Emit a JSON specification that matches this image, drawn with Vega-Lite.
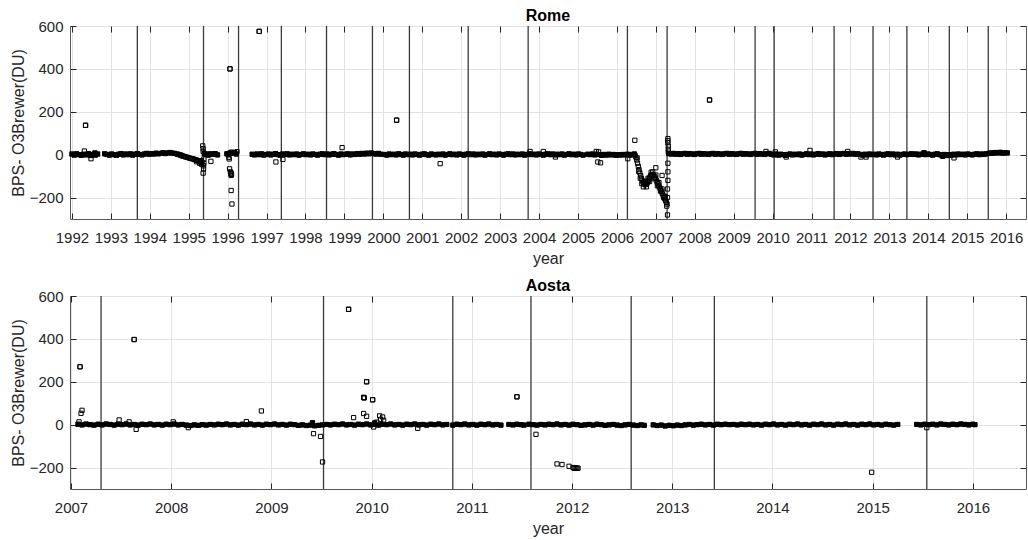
{
"$schema":"https://vega.github.io/schema/vega-lite/v6.json",
"padding":{"left":9,"top":7,"right":0,"bottom":0},
"spacing":10,
"config":{
"font":"Liberation Sans",
"view":{"stroke":"#5a5a5a","strokeWidth":1},
"axis":{"labelFont":"Liberation Sans","labelFontSize":15,"labelColor":"#262626","titleFont":"Liberation Sans","titleFontSize":16,"titleFontWeight":"normal","titleColor":"#262626","tickColor":"#262626","tickSize":-6,"labelPadding":13,"domain":false,"gridColor":"#e3e3e3","gridWidth":1,"labelOverlap":false,"labelFlush":false,"titlePadding":5},
"axisX":{"labelPadding":17},
"axisY":{"titlePadding":3},
"title":{"font":"Liberation Sans","fontSize":16,"fontWeight":"bold","color":"black","offset":-5}
},
"datasets":{
"romeEv":[{"t":1993.68},{"t":1995.38},{"t":1996.28},{"t":1997.38},{"t":1998.54},{"t":1999.72},{"t":2000.67},{"t":2002.18},{"t":2003.72},{"t":2006.27},{"t":2007.29},{"t":2009.55},{"t":2010.04},{"t":2011.58},{"t":2012.58},{"t":2013.45},{"t":2014.54},{"t":2015.54}],
"aostaEv":[{"t":2007.30},{"t":2009.52},{"t":2010.81},{"t":2011.59},{"t":2012.59},{"t":2013.42},{"t":2015.54}],
"rome":[
{"t":1992.00,"v":3},{"t":1992.06,"v":-2},{"t":1992.12,"v":4},{"t":1992.18,"v":0},{"t":1992.24,"v":-3},{"t":1992.30,"v":2},{"t":1992.36,"v":-1},{"t":1992.42,"v":5},{"t":1992.48,"v":-4},{"t":1992.54,"v":1},{"t":1992.60,"v":-2},{"t":1992.66,"v":3},
{"t":1992.35,"v":137},{"t":1992.32,"v":17},{"t":1992.49,"v":-19},{"t":1992.59,"v":8},
{"t":1992.84,"v":4},{"t":1992.90,"v":1},{"t":1992.96,"v":-2},{"t":1993.02,"v":3},{"t":1993.08,"v":0},{"t":1993.14,"v":-3},{"t":1993.20,"v":2},{"t":1993.26,"v":5},{"t":1993.32,"v":-1},{"t":1993.38,"v":3},{"t":1993.44,"v":0},{"t":1993.50,"v":4},{"t":1993.56,"v":-2},{"t":1993.62,"v":2},{"t":1993.68,"v":5},{"t":1993.74,"v":1},{"t":1993.80,"v":-1},{"t":1993.86,"v":3},{"t":1993.92,"v":6},{"t":1993.98,"v":2},
{"t":1994.04,"v":5},{"t":1994.10,"v":3},{"t":1994.16,"v":7},{"t":1994.22,"v":4},{"t":1994.28,"v":6},{"t":1994.34,"v":9},{"t":1994.40,"v":5},{"t":1994.46,"v":8},{"t":1994.52,"v":10},{"t":1994.58,"v":7},{"t":1994.64,"v":6},
{"t":1994.70,"v":3},{"t":1994.76,"v":0},{"t":1994.82,"v":-4},{"t":1994.88,"v":-8},{"t":1994.94,"v":-11},{"t":1995.00,"v":-14},{"t":1995.06,"v":-18},{"t":1995.12,"v":-20},{"t":1995.18,"v":-24},{"t":1995.24,"v":-28},{"t":1995.30,"v":-32},{"t":1995.34,"v":-35},{"t":1995.20,"v":-33},{"t":1995.28,"v":-40},{"t":1995.33,"v":-45},
{"t":1994.73,"v":1},{"t":1994.79,"v":-2},{"t":1994.85,"v":-7},{"t":1994.91,"v":-10},{"t":1994.97,"v":-13},{"t":1995.03,"v":-17},{"t":1995.09,"v":-19},{"t":1995.15,"v":-23},{"t":1995.21,"v":-26},{"t":1995.27,"v":-30},{"t":1995.31,"v":-37},{"t":1995.32,"v":-28},
{"t":1995.36,"v":41},{"t":1995.37,"v":28},{"t":1995.37,"v":15},{"t":1995.38,"v":-52},{"t":1995.38,"v":-66},{"t":1995.37,"v":-86},{"t":1995.39,"v":-40},{"t":1995.39,"v":-20},{"t":1995.40,"v":5},
{"t":1995.44,"v":3},{"t":1995.50,"v":-2},{"t":1995.56,"v":4},{"t":1995.57,"v":-31},{"t":1995.62,"v":1},{"t":1995.68,"v":5},{"t":1995.74,"v":-1},
{"t":1995.98,"v":4},{"t":1996.02,"v":0},{"t":1996.06,"v":8},{"t":1996.10,"v":12},{"t":1996.14,"v":6},{"t":1996.18,"v":10},{"t":1996.22,"v":3},{"t":1996.24,"v":14},
{"t":1996.06,"v":400},{"t":1996.04,"v":-20},{"t":1996.05,"v":-66},{"t":1996.07,"v":-80},{"t":1996.08,"v":-89},{"t":1996.09,"v":-97},{"t":1996.10,"v":-92},{"t":1996.09,"v":-85},{"t":1996.09,"v":-167},{"t":1996.11,"v":-230},{"t":1996.03,"v":-12},
{"t":1996.81,"v":575},
{"t":1996.63,"v":2},{"t":1996.69,"v":-1},{"t":1996.75,"v":3},{"t":1996.81,"v":0},{"t":1996.87,"v":4},{"t":1996.93,"v":-2},{"t":1996.99,"v":1},{"t":1997.05,"v":3},{"t":1997.11,"v":-1},{"t":1997.17,"v":2},{"t":1997.23,"v":5},{"t":1997.29,"v":0},{"t":1997.35,"v":-2},{"t":1997.41,"v":3},{"t":1997.47,"v":1},{"t":1997.53,"v":4},{"t":1997.59,"v":-1},{"t":1997.65,"v":2},{"t":1997.71,"v":0},{"t":1997.77,"v":3},{"t":1997.83,"v":-2},{"t":1997.89,"v":1},{"t":1997.95,"v":4},{"t":1998.01,"v":0},{"t":1998.07,"v":2},{"t":1998.13,"v":-1},{"t":1998.19,"v":3},{"t":1998.25,"v":1},{"t":1998.31,"v":-2},{"t":1998.37,"v":2},{"t":1998.43,"v":4},{"t":1998.49,"v":0},{"t":1998.55,"v":3},{"t":1998.61,"v":-1},{"t":1998.67,"v":2},{"t":1998.73,"v":5},{"t":1998.79,"v":1},{"t":1998.85,"v":-2},{"t":1998.91,"v":3},{"t":1998.97,"v":0},{"t":1999.03,"v":2},{"t":1999.09,"v":4},{"t":1999.15,"v":-1},{"t":1999.21,"v":3},{"t":1999.27,"v":1},{"t":1999.33,"v":5},{"t":1999.39,"v":2},{"t":1999.45,"v":6},{"t":1999.51,"v":3},{"t":1999.57,"v":7},{"t":1999.63,"v":4},{"t":1999.69,"v":8},{"t":1999.75,"v":5},{"t":1999.81,"v":3},{"t":1999.87,"v":6},{"t":1999.93,"v":2},
{"t":1997.24,"v":-34},{"t":1997.42,"v":-22},{"t":1998.94,"v":33},
{"t":2000.03,"v":1},{"t":2000.09,"v":-2},{"t":2000.15,"v":3},{"t":2000.21,"v":0},{"t":2000.27,"v":2},{"t":2000.33,"v":-1},{"t":2000.39,"v":4},{"t":2000.45,"v":1},{"t":2000.51,"v":-2},{"t":2000.57,"v":3},{"t":2000.63,"v":0},{"t":2000.69,"v":2},{"t":2000.75,"v":-1},{"t":2000.81,"v":3},{"t":2000.87,"v":1},{"t":2000.93,"v":-2},{"t":2000.99,"v":2},{"t":2001.05,"v":4},{"t":2001.11,"v":0},{"t":2001.17,"v":-2},{"t":2001.23,"v":3},{"t":2001.29,"v":1},{"t":2001.35,"v":-1},{"t":2001.41,"v":2},{"t":2001.47,"v":0},{"t":2001.53,"v":3},{"t":2001.59,"v":-2},{"t":2001.65,"v":1},{"t":2001.71,"v":4},{"t":2001.77,"v":0},{"t":2001.83,"v":2},{"t":2001.89,"v":-1},{"t":2001.95,"v":3},{"t":2002.01,"v":1},{"t":2002.07,"v":-2},{"t":2002.13,"v":2},{"t":2002.19,"v":4},{"t":2002.25,"v":0},{"t":2002.31,"v":3},{"t":2002.37,"v":-1},{"t":2002.43,"v":2},{"t":2002.49,"v":0},{"t":2002.55,"v":3},{"t":2002.61,"v":-2},{"t":2002.67,"v":1},{"t":2002.73,"v":4},{"t":2002.79,"v":0},{"t":2002.85,"v":2},{"t":2002.91,"v":-1},{"t":2002.97,"v":3},{"t":2003.03,"v":1},{"t":2003.09,"v":-2},{"t":2003.15,"v":2},{"t":2003.21,"v":4},{"t":2003.27,"v":0},{"t":2003.33,"v":3},{"t":2003.39,"v":-1},{"t":2003.45,"v":2},{"t":2003.51,"v":0},{"t":2003.57,"v":3},{"t":2003.63,"v":-2},{"t":2003.69,"v":1},{"t":2003.75,"v":4},{"t":2003.81,"v":0},{"t":2003.87,"v":2},{"t":2003.93,"v":-1},{"t":2003.99,"v":3},{"t":2004.05,"v":1},{"t":2004.11,"v":-2},{"t":2004.17,"v":2},{"t":2004.23,"v":4},{"t":2004.29,"v":0},{"t":2004.35,"v":3},{"t":2004.41,"v":-1},{"t":2004.47,"v":2},{"t":2004.53,"v":0},{"t":2004.59,"v":3},{"t":2004.65,"v":-2},{"t":2004.71,"v":1},{"t":2004.77,"v":4},{"t":2004.83,"v":0},{"t":2004.89,"v":2},{"t":2004.95,"v":-1},{"t":2005.01,"v":3},{"t":2005.07,"v":1},{"t":2005.13,"v":-2},{"t":2005.25,"v":2},{"t":2005.31,"v":0},{"t":2005.37,"v":3},{"t":2005.43,"v":-1},{"t":2005.49,"v":2},{"t":2005.55,"v":0},{"t":2005.61,"v":-3},{"t":2005.67,"v":1},{"t":2005.73,"v":-2},{"t":2005.79,"v":2},{"t":2005.85,"v":-1},{"t":2005.91,"v":1},{"t":2005.97,"v":-3},{"t":2006.03,"v":0},{"t":2006.09,"v":-2},{"t":2006.15,"v":1},{"t":2006.21,"v":-1},{"t":2006.27,"v":2},{"t":2006.33,"v":-2},{"t":2006.39,"v":1},{"t":2006.45,"v":3},
{"t":2000.34,"v":161},{"t":2001.46,"v":-42},{"t":2003.77,"v":15},{"t":2004.11,"v":15},{"t":2004.42,"v":-11},{"t":2005.47,"v":15},{"t":2005.51,"v":-34},{"t":2005.53,"v":13},{"t":2005.58,"v":-38},{"t":2006.28,"v":-19},{"t":2006.46,"v":67},
{"t":2006.47,"v":-5},{"t":2006.49,"v":-12},{"t":2006.51,"v":-25},{"t":2006.53,"v":-40},{"t":2006.55,"v":-55},{"t":2006.57,"v":-70},{"t":2006.59,"v":-85},{"t":2006.61,"v":-98},{"t":2006.63,"v":-110},{"t":2006.65,"v":-120},{"t":2006.67,"v":-128},{"t":2006.69,"v":-134},{"t":2006.71,"v":-138},{"t":2006.73,"v":-140},{"t":2006.75,"v":-138},{"t":2006.77,"v":-134},{"t":2006.79,"v":-128},{"t":2006.81,"v":-120},{"t":2006.83,"v":-112},{"t":2006.85,"v":-104},{"t":2006.87,"v":-98},{"t":2006.89,"v":-94},{"t":2006.91,"v":-92},{"t":2006.93,"v":-94},{"t":2006.95,"v":-98},{"t":2006.97,"v":-104},{"t":2006.99,"v":-110},{"t":2007.01,"v":-118},{"t":2007.03,"v":-126},{"t":2007.05,"v":-134},{"t":2007.07,"v":-142},{"t":2007.09,"v":-150},{"t":2007.11,"v":-158},{"t":2007.13,"v":-166},{"t":2007.15,"v":-174},{"t":2007.17,"v":-182},{"t":2007.19,"v":-190},{"t":2007.21,"v":-198},{"t":2007.23,"v":-206},{"t":2007.25,"v":-214},{"t":2007.27,"v":-222},{"t":2007.29,"v":-230},
{"t":2006.52,"v":-15},{"t":2006.56,"v":-78},{"t":2006.60,"v":-110},{"t":2006.64,"v":-135},{"t":2006.68,"v":-150},{"t":2006.72,"v":-125},{"t":2006.76,"v":-150},{"t":2006.80,"v":-110},{"t":2006.84,"v":-125},{"t":2006.88,"v":-82},{"t":2006.92,"v":-80},{"t":2006.96,"v":-112},{"t":2007.00,"v":-95},{"t":2007.04,"v":-145},{"t":2007.08,"v":-130},{"t":2007.12,"v":-170},{"t":2007.16,"v":-160},{"t":2007.20,"v":-200},{"t":2007.24,"v":-195},{"t":2007.28,"v":-240},
{"t":2007.00,"v":-61},{"t":2007.16,"v":-97},{"t":2007.30,"v":-281},{"t":2007.30,"v":-200},{"t":2007.30,"v":-160},{"t":2007.31,"v":-120},{"t":2007.31,"v":-80},{"t":2007.31,"v":-40},{"t":2007.31,"v":75},{"t":2007.31,"v":65},{"t":2007.31,"v":56},{"t":2007.32,"v":40},{"t":2007.32,"v":25},{"t":2007.32,"v":12},
{"t":2007.33,"v":5},{"t":2007.39,"v":3},{"t":2007.45,"v":6},{"t":2007.51,"v":2},{"t":2007.57,"v":5},{"t":2007.63,"v":1},{"t":2007.69,"v":4},{"t":2007.75,"v":6},{"t":2007.81,"v":2},{"t":2007.87,"v":5},{"t":2007.93,"v":3},{"t":2007.99,"v":1},{"t":2008.05,"v":4},{"t":2008.11,"v":6},{"t":2008.17,"v":2},{"t":2008.23,"v":5},{"t":2008.29,"v":3},{"t":2008.35,"v":1},{"t":2008.41,"v":4},{"t":2008.47,"v":6},{"t":2008.53,"v":2},{"t":2008.59,"v":5},{"t":2008.65,"v":3},{"t":2008.71,"v":1},{"t":2008.77,"v":4},{"t":2008.83,"v":6},{"t":2008.89,"v":2},{"t":2008.95,"v":5},{"t":2009.01,"v":3},{"t":2009.07,"v":1},{"t":2009.13,"v":4},{"t":2009.19,"v":6},{"t":2009.25,"v":2},{"t":2009.31,"v":5},{"t":2009.37,"v":3},{"t":2009.43,"v":1},{"t":2009.49,"v":4},{"t":2009.55,"v":6},{"t":2009.61,"v":2},{"t":2009.67,"v":5},{"t":2009.73,"v":3},{"t":2009.79,"v":1},{"t":2009.85,"v":4},{"t":2009.91,"v":6},{"t":2009.97,"v":2},{"t":2010.03,"v":-1},{"t":2010.09,"v":3},{"t":2010.15,"v":-2},{"t":2010.21,"v":2},{"t":2010.27,"v":0},{"t":2010.33,"v":-3},{"t":2010.39,"v":1},{"t":2010.45,"v":3},{"t":2010.51,"v":-1},{"t":2010.57,"v":2},{"t":2010.63,"v":0},{"t":2010.69,"v":3},{"t":2010.75,"v":-2},{"t":2010.81,"v":1},{"t":2010.87,"v":4},{"t":2010.93,"v":0},{"t":2010.99,"v":3},{"t":2011.05,"v":-1},{"t":2011.11,"v":2},{"t":2011.17,"v":5},{"t":2011.23,"v":1},{"t":2011.29,"v":3},{"t":2011.35,"v":-1},{"t":2011.41,"v":2},{"t":2011.47,"v":4},{"t":2011.53,"v":0},{"t":2011.59,"v":3},{"t":2011.65,"v":5},{"t":2011.71,"v":1},{"t":2011.77,"v":4},{"t":2011.83,"v":6},{"t":2011.89,"v":2},{"t":2011.95,"v":5},{"t":2012.01,"v":3},{"t":2012.07,"v":6},{"t":2012.13,"v":2},{"t":2012.19,"v":4},{"t":2012.25,"v":1},{"t":2012.31,"v":-2},{"t":2012.37,"v":2},{"t":2012.43,"v":-1},{"t":2012.49,"v":3},{"t":2012.55,"v":0},{"t":2012.61,"v":2},{"t":2012.67,"v":-1},{"t":2012.73,"v":3},{"t":2012.79,"v":1},{"t":2012.85,"v":-2},{"t":2012.91,"v":2},{"t":2012.97,"v":4},{"t":2013.03,"v":0},{"t":2013.09,"v":3},{"t":2013.15,"v":-1},{"t":2013.21,"v":2},{"t":2013.27,"v":-2},{"t":2013.33,"v":1},{"t":2013.39,"v":3},{"t":2013.45,"v":0},{"t":2013.51,"v":2},{"t":2013.57,"v":4},{"t":2013.63,"v":1},{"t":2013.69,"v":3},{"t":2013.75,"v":-1},{"t":2013.81,"v":2},{"t":2013.87,"v":4},{"t":2013.93,"v":0},{"t":2013.99,"v":3},{"t":2014.05,"v":1},{"t":2014.11,"v":-2},{"t":2014.17,"v":2},{"t":2014.23,"v":4},{"t":2014.29,"v":0},{"t":2014.35,"v":-3},{"t":2014.41,"v":1},{"t":2014.47,"v":-4},{"t":2014.53,"v":0},{"t":2014.59,"v":-3},{"t":2014.65,"v":2},{"t":2014.71,"v":-1},{"t":2014.77,"v":3},{"t":2014.83,"v":0},{"t":2014.89,"v":2},{"t":2014.95,"v":-1},{"t":2015.01,"v":3},{"t":2015.07,"v":1},{"t":2015.13,"v":-1},{"t":2015.19,"v":2},{"t":2015.25,"v":4},{"t":2015.31,"v":0},{"t":2015.37,"v":3},{"t":2015.43,"v":1},{"t":2015.49,"v":4},{"t":2015.55,"v":6},{"t":2015.61,"v":8},{"t":2015.67,"v":7},{"t":2015.73,"v":10},{"t":2015.79,"v":8},{"t":2015.85,"v":11},{"t":2015.91,"v":7},{"t":2015.97,"v":9},{"t":2016.03,"v":8},
{"t":2008.38,"v":255},{"t":2009.83,"v":15},{"t":2010.07,"v":13},{"t":2010.35,"v":-11},{"t":2010.96,"v":20},{"t":2011.93,"v":15},{"t":2012.27,"v":-11},{"t":2012.40,"v":-11},{"t":2013.21,"v":-11},{"t":2013.89,"v":9},{"t":2014.37,"v":-8},{"t":2014.66,"v":-15}
],
"aosta":[
{"t":2007.07,"v":2},{"t":2007.11,"v":-1},{"t":2007.15,"v":3},{"t":2007.19,"v":0},{"t":2007.23,"v":-2},{"t":2007.27,"v":2},{"t":2007.31,"v":-1},{"t":2007.35,"v":3},{"t":2007.39,"v":1},{"t":2007.43,"v":-2},{"t":2007.47,"v":2},{"t":2007.51,"v":0},{"t":2007.55,"v":3},{"t":2007.59,"v":-1},{"t":2007.63,"v":1},{"t":2007.67,"v":-2},{"t":2007.71,"v":2},{"t":2007.75,"v":0},{"t":2007.79,"v":3},{"t":2007.83,"v":-1},{"t":2007.87,"v":1},{"t":2007.91,"v":-2},{"t":2007.95,"v":2},{"t":2007.99,"v":0},{"t":2008.03,"v":3},{"t":2008.07,"v":-1},{"t":2008.11,"v":1},{"t":2008.15,"v":-2},{"t":2008.19,"v":-4},{"t":2008.23,"v":-1},{"t":2008.27,"v":-3},{"t":2008.31,"v":0},{"t":2008.35,"v":-2},{"t":2008.39,"v":1},{"t":2008.43,"v":-1},{"t":2008.47,"v":2},{"t":2008.51,"v":0},{"t":2008.55,"v":3},{"t":2008.59,"v":-1},{"t":2008.63,"v":1},{"t":2008.67,"v":-2},{"t":2008.71,"v":2},{"t":2008.75,"v":0},{"t":2008.79,"v":3},{"t":2008.83,"v":-1},{"t":2008.87,"v":1},{"t":2008.91,"v":-2},{"t":2008.95,"v":2},{"t":2008.99,"v":0},{"t":2009.03,"v":3},{"t":2009.07,"v":-1},{"t":2009.11,"v":1},{"t":2009.15,"v":-2},{"t":2009.19,"v":2},{"t":2009.23,"v":0},{"t":2009.27,"v":-3},{"t":2009.31,"v":-1},{"t":2009.35,"v":-4},{"t":2009.39,"v":-2},{"t":2009.43,"v":-5},{"t":2009.47,"v":-3},{"t":2009.51,"v":-1},{"t":2009.55,"v":1},{"t":2009.59,"v":-1},{"t":2009.63,"v":2},{"t":2009.67,"v":0},{"t":2009.71,"v":3},{"t":2009.75,"v":-1},{"t":2009.79,"v":1},{"t":2009.83,"v":-2},{"t":2009.87,"v":2},{"t":2009.91,"v":0},{"t":2009.95,"v":3},{"t":2009.99,"v":-1},{"t":2010.03,"v":1},{"t":2010.07,"v":-2},{"t":2010.11,"v":2},{"t":2010.15,"v":0},{"t":2010.19,"v":3},{"t":2010.23,"v":-1},{"t":2010.27,"v":1},{"t":2010.31,"v":-2},{"t":2010.35,"v":2},{"t":2010.39,"v":0},{"t":2010.43,"v":3},{"t":2010.47,"v":-1},{"t":2010.51,"v":1},{"t":2010.55,"v":-2},{"t":2010.59,"v":2},{"t":2010.63,"v":0},{"t":2010.67,"v":3},{"t":2010.71,"v":-1},{"t":2010.75,"v":1},{"t":2010.81,"v":-2},{"t":2010.85,"v":2},{"t":2010.89,"v":0},{"t":2010.93,"v":3},{"t":2010.97,"v":-1},{"t":2011.01,"v":1},{"t":2011.05,"v":-2},{"t":2011.09,"v":2},{"t":2011.13,"v":0},{"t":2011.17,"v":3},{"t":2011.21,"v":-1},{"t":2011.25,"v":1},{"t":2011.29,"v":-2},
{"t":2011.37,"v":1},{"t":2011.41,"v":-1},{"t":2011.45,"v":2},{"t":2011.49,"v":0},{"t":2011.52,"v":-2},
{"t":2011.57,"v":2},{"t":2011.61,"v":0},{"t":2011.65,"v":-2},{"t":2011.69,"v":1},{"t":2011.73,"v":-1},{"t":2011.77,"v":2},{"t":2011.81,"v":0},{"t":2011.85,"v":3},{"t":2011.89,"v":-1},{"t":2011.93,"v":1},{"t":2011.97,"v":-2},{"t":2012.01,"v":2},{"t":2012.05,"v":0},{"t":2012.09,"v":-3},{"t":2012.13,"v":-1},{"t":2012.17,"v":1},{"t":2012.21,"v":-2},{"t":2012.25,"v":2},{"t":2012.29,"v":0},{"t":2012.33,"v":-3},{"t":2012.37,"v":-1},{"t":2012.41,"v":1},{"t":2012.45,"v":-2},{"t":2012.49,"v":-4},{"t":2012.53,"v":-1},{"t":2012.57,"v":1},{"t":2012.61,"v":-2},{"t":2012.65,"v":-4},{"t":2012.69,"v":-1},{"t":2012.72,"v":-3},
{"t":2012.81,"v":-1},{"t":2012.85,"v":-4},{"t":2012.89,"v":-2},{"t":2012.93,"v":-6},{"t":2012.97,"v":-3},{"t":2013.01,"v":-5},{"t":2013.05,"v":-2},{"t":2013.09,"v":-4},{"t":2013.13,"v":-1},{"t":2013.17,"v":1},{"t":2013.21,"v":-2},{"t":2013.25,"v":0},{"t":2013.29,"v":2},{"t":2013.33,"v":-1},{"t":2013.37,"v":1},{"t":2013.41,"v":-2},{"t":2013.45,"v":2},{"t":2013.49,"v":0},{"t":2013.53,"v":2},{"t":2013.57,"v":0},
{"t":2013.61,"v":1},{"t":2013.65,"v":-1},{"t":2013.69,"v":2},{"t":2013.73,"v":0},{"t":2013.77,"v":2},{"t":2013.81,"v":-1},{"t":2013.85,"v":1},{"t":2013.89,"v":-2},{"t":2013.93,"v":2},{"t":2013.97,"v":0},{"t":2014.01,"v":3},{"t":2014.05,"v":-1},{"t":2014.09,"v":1},{"t":2014.13,"v":-2},{"t":2014.17,"v":2},{"t":2014.21,"v":0},{"t":2014.25,"v":3},{"t":2014.29,"v":-1},{"t":2014.33,"v":1},{"t":2014.37,"v":-2},{"t":2014.41,"v":2},{"t":2014.45,"v":0},{"t":2014.49,"v":3},{"t":2014.53,"v":-1},{"t":2014.57,"v":1},{"t":2014.61,"v":-2},{"t":2014.65,"v":2},{"t":2014.69,"v":0},{"t":2014.73,"v":3},{"t":2014.77,"v":-1},{"t":2014.81,"v":1},{"t":2014.85,"v":-2},{"t":2014.89,"v":2},{"t":2014.93,"v":0},{"t":2014.97,"v":3},{"t":2015.01,"v":-1},{"t":2015.05,"v":1},{"t":2015.09,"v":-2},{"t":2015.13,"v":2},{"t":2015.17,"v":0},{"t":2015.21,"v":-2},{"t":2015.25,"v":1},
{"t":2015.44,"v":1},{"t":2015.48,"v":-1},{"t":2015.52,"v":2},{"t":2015.56,"v":0},{"t":2015.60,"v":2},{"t":2015.64,"v":-1},{"t":2015.68,"v":3},{"t":2015.72,"v":1},{"t":2015.76,"v":-1},{"t":2015.80,"v":2},{"t":2015.84,"v":0},{"t":2015.88,"v":3},{"t":2015.92,"v":1},{"t":2015.96,"v":-1},{"t":2016.00,"v":2},{"t":2016.02,"v":0},
{"t":2007.08,"v":13},{"t":2007.09,"v":270},{"t":2007.10,"v":53},{"t":2007.11,"v":67},{"t":2007.48,"v":22},{"t":2007.58,"v":13},{"t":2007.63,"v":397},{"t":2007.65,"v":-22},{"t":2008.02,"v":13},{"t":2008.17,"v":-14},{"t":2008.75,"v":14},{"t":2008.90,"v":64},{"t":2009.41,"v":9},{"t":2009.42,"v":-42},{"t":2009.49,"v":-55},{"t":2009.51,"v":-174},{"t":2009.77,"v":538},{"t":2009.82,"v":33},{"t":2009.92,"v":127},{"t":2009.925,"v":125},{"t":2009.95,"v":200},{"t":2009.92,"v":52},{"t":2009.95,"v":39},{"t":2010.01,"v":116},{"t":2010.02,"v":-11},{"t":2010.03,"v":8},{"t":2010.05,"v":12},{"t":2010.08,"v":41},{"t":2010.09,"v":25},{"t":2010.11,"v":36},{"t":2010.12,"v":20},{"t":2010.46,"v":-17},{"t":2011.45,"v":130},{"t":2011.64,"v":-45},{"t":2011.85,"v":-183},{"t":2011.90,"v":-186},{"t":2011.97,"v":-194},{"t":2012.01,"v":-200},{"t":2012.02,"v":-203},{"t":2012.03,"v":-201},{"t":2012.04,"v":-204},{"t":2012.05,"v":-202},{"t":2012.06,"v":-203},{"t":2014.99,"v":-222},{"t":2015.54,"v":-14}
]
},
"vconcat":[
{
"title":"Rome",
"width":956,"height":193,
"layer":[
{"data":{"name":"romeEv"},"mark":{"type":"rule","color":"#3a3a3a","strokeWidth":1.3},
"encoding":{"x":{"field":"t","type":"quantitative","scale":{"domain":[1991.95,2016.51],"nice":false,"zero":false},"axis":{"orient":"top","labels":false,"grid":false,"title":null,"values":[1992,1993,1994,1995,1996,1997,1998,1999,2000,2001,2002,2003,2004,2005,2006,2007,2008,2009,2010,2011,2012,2013,2014,2015,2016]}}}},
{"data":{"name":"rome"},"mark":{"type":"point","shape":"square","filled":false,"color":"black","size":18,"strokeWidth":1,"opacity":1},
"encoding":{"x":{"field":"t","type":"quantitative","axis":{"orient":"bottom","title":"year","format":"d","grid":true,"values":[1992,1993,1994,1995,1996,1997,1998,1999,2000,2001,2002,2003,2004,2005,2006,2007,2008,2009,2010,2011,2012,2013,2014,2015,2016]}},
"y":{"field":"v","type":"quantitative","scale":{"domain":[-300,600],"nice":false},"axis":{"orient":"left","title":"BPS- O3Brewer(DU)","grid":true,"values":[-200,0,200,400,600]}}}},
{"data":{"name":"rome"},"transform":[{"filter":"datum.v >= -6 && datum.v <= 11"}],"mark":{"type":"square","color":"black","size":22,"opacity":1},
"encoding":{"x":{"field":"t","type":"quantitative","axis":null},"y":{"field":"v","type":"quantitative","axis":null}}},
{"data":{"name":"rome"},"transform":[{"filter":"datum.v > 100"}],"mark":{"type":"point","shape":"square","filled":false,"color":"black","size":18,"strokeWidth":1,"opacity":1},
"encoding":{"x":{"field":"t","type":"quantitative","axis":null},
"y":{"field":"v","type":"quantitative","axis":{"orient":"right","labels":false,"grid":false,"title":null,"values":[-200,0,200,400,600]}}}}
],
"resolve":{"axis":{"x":"independent","y":"independent"}}
},
{
"title":"Aosta",
"width":956,"height":193,
"layer":[
{"data":{"name":"aostaEv"},"mark":{"type":"rule","color":"#3a3a3a","strokeWidth":1.3},
"encoding":{"x":{"field":"t","type":"quantitative","scale":{"domain":[2006.99,2016.53],"nice":false,"zero":false},"axis":{"orient":"top","labels":false,"grid":false,"title":null,"values":[2007,2008,2009,2010,2011,2012,2013,2014,2015,2016]}}}},
{"data":{"name":"aosta"},"mark":{"type":"point","shape":"square","filled":false,"color":"black","size":18,"strokeWidth":1,"opacity":1},
"encoding":{"x":{"field":"t","type":"quantitative","axis":{"orient":"bottom","title":"year","format":"d","grid":true,"values":[2007,2008,2009,2010,2011,2012,2013,2014,2015,2016]}},
"y":{"field":"v","type":"quantitative","scale":{"domain":[-300,600],"nice":false},"axis":{"orient":"left","title":"BPS- O3Brewer(DU)","grid":true,"values":[-200,0,200,400,600]}}}},
{"data":{"name":"aosta"},"transform":[{"filter":"datum.v >= -6 && datum.v <= 11"}],"mark":{"type":"square","color":"black","size":22,"opacity":1},
"encoding":{"x":{"field":"t","type":"quantitative","axis":null},"y":{"field":"v","type":"quantitative","axis":null}}},
{"data":{"name":"aosta"},"transform":[{"filter":"datum.v > 100"}],"mark":{"type":"point","shape":"square","filled":false,"color":"black","size":18,"strokeWidth":1,"opacity":1},
"encoding":{"x":{"field":"t","type":"quantitative","axis":null},
"y":{"field":"v","type":"quantitative","axis":{"orient":"right","labels":false,"grid":false,"title":null,"values":[-200,0,200,400,600]}}}}
],
"resolve":{"axis":{"x":"independent","y":"independent"}}
}
]
}
